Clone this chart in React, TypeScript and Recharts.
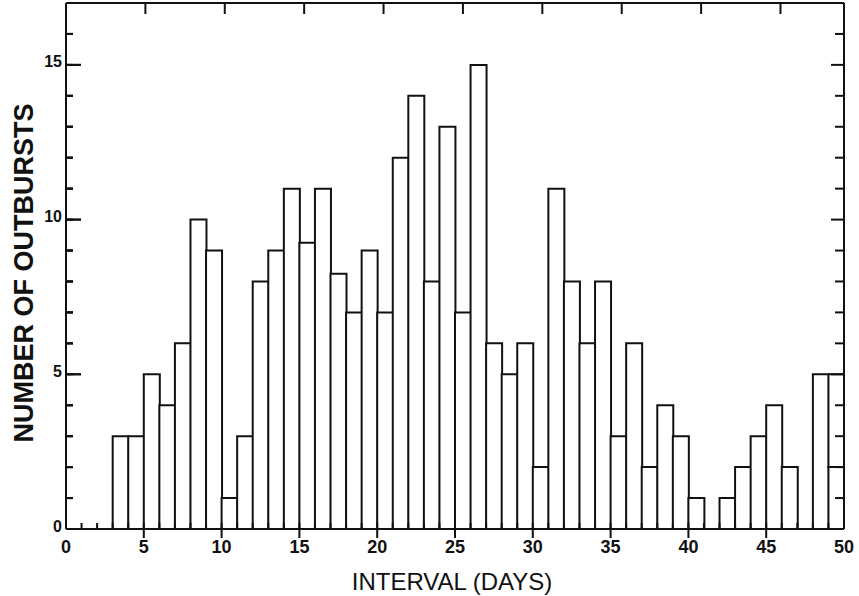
import React from "react";
import { BarChart, Bar, XAxis, YAxis, ReferenceLine } from "recharts";

// Histogram bins (start of each 1-day interval)
const binStarts = Array.from({ length: 50 }, (_, i) => i);
// Number of outbursts per bin
const counts = [
  0, 0, 0, 3, 3, 5, 4, 6, 10, 9,
  1, 3, 8, 9, 11, 9.25, 11, 8.25, 7, 9,
  7, 12, 14, 8, 13, 7, 15, 6, 5, 6,
  2, 11, 8, 6, 8, 3, 6, 2, 4, 3,
  1, 0, 1, 2, 3, 4, 2, 0, 5, 2,
];
// Extra outlined portion drawn on top (last bin outline reaches 5)
const extra = [
  0, 0, 0, 0, 0, 0, 0, 0, 0, 0,
  0, 0, 0, 0, 0, 0, 0, 0, 0, 0,
  0, 0, 0, 0, 0, 0, 0, 0, 0, 0,
  0, 0, 0, 0, 0, 0, 0, 0, 0, 0,
  0, 0, 0, 0, 0, 0, 0, 0, 0, 3,
];

const xTicks = Array.from({ length: 51 }, (_, i) => i);
const xLabelTicks = [0, 5, 10, 15, 20, 25, 30, 35, 40, 45, 50];
const xTopTicks = [5, 10, 15, 20, 25, 30, 35, 40, 45];
const yTicks = Array.from({ length: 17 }, (_, i) => i);
const yLabelTicks = [0, 5, 10, 15];
const yInnerTicks = Array.from({ length: 16 }, (_, i) => i + 1);

const data = binStarts.map((s, i) => ({ x: s + 0.5, count: counts[i], extra: extra[i] }));

const INK = "#111";
const FONT = "'Liberation Sans', Arial, sans-serif";
const lineStyle = { stroke: INK, strokeWidth: 2 };

const BottomTick = (props: any) => {
  const x = Number(props.x);
  const y = Number(props.y);
  const v = props.payload.value;
  const major = xLabelTicks.includes(v);
  return (
    <g>
      {v !== 0 && v !== 50 && (
        <path d={`M${x},${y - 6}L${x},${major ? y + 9 : y}`} stroke={INK} strokeWidth={2} fill="none" />
      )}
      {major && (
        <text x={x} y={y + 11} dy="0.71em" textAnchor="middle" fontFamily={FONT} fontSize={18} fontWeight="bold" fill={INK}>
          {v}
        </text>
      )}
    </g>
  );
};

const TopTick = (props: any) => {
  const x = Number(props.x);
  const y = Number(props.y);
  return <path d={`M${x},${y}L${x},${y + 11}`} stroke={INK} strokeWidth={2} fill="none" />;
};

// Left labels; x arrives at the frame edge (tickSize -7 + tickMargin 7)
const LeftTick = (props: any) => {
  const ax = Number(props.x);
  const y = Number(props.y);
  const v = props.payload.value;
  const major = yLabelTicks.includes(v);
  return (
    <g>
      {v !== 0 && (
        <path d={`M${ax},${y}L${ax + (major ? 15 : 7)},${y}`} stroke={INK} strokeWidth={2} fill="none" />
      )}
      {major && (
        <text x={ax - 4} y={y - 3} dy="0.35em" textAnchor="end" fontFamily={FONT} fontSize={16} fontWeight="bold" fill={INK}>
          {v}
        </text>
      )}
    </g>
  );
};

// Inner tick marks on left and right frame edges, from a reference line's end points
const InnerTickShape = (props: any) => {
  const x1 = Math.min(Number(props.x1), Number(props.x2));
  const x2 = Math.max(Number(props.x1), Number(props.x2));
  const y = Number(props.y1);
  const major = props.major;
  const lenL = major ? 15 : 7;
  const lenR = major ? 13 : 9;
  return (
    <g>
      <path d={`M${x1},${y}L${x1 + lenL},${y}`} stroke={INK} strokeWidth={2} fill="none" />
      <path d={`M${x2},${y}L${x2 - lenR},${y}`} stroke={INK} strokeWidth={2} fill="none" />
    </g>
  );
};

const XLabel = (props: any) => {
  const vb = props.viewBox;
  const cx = vb.x + vb.width / 2 - 3;
  const y = vb.y + vb.height - 6;
  return (
    <text x={cx} y={y} textAnchor="middle" fontFamily={FONT} fontSize={24} fill={INK}>
      INTERVAL (DAYS)
    </text>
  );
};

const YLabel = (props: any) => {
  const vb = props.viewBox;
  const cx = vb.x + 24;
  const cy = vb.y + vb.height / 2 + 7;
  return (
    <text
      x={cx}
      y={cy}
      transform={`rotate(-90 ${cx} ${cy})`}
      textAnchor="middle"
      dominantBaseline="central"
      fontFamily={FONT}
      fontWeight="bold"
      fontSize={27}
      fill={INK}
    >
      NUMBER OF OUTBURSTS
    </text>
  );
};

export default function App() {
  return (
    <div style={{ position: "absolute", left: 0, top: 0, background: "#fff" }}>
      <BarChart
        width={859}
        height={596}
        data={data}
        margin={{ top: 2, right: 14, left: 0, bottom: 0 }}
        barCategoryGap={0}
        barGap={0}
      >
        <XAxis
          xAxisId="bottom"
          type="number"
          dataKey="x"
          domain={[0, 50]}
          allowDataOverflow
          ticks={xTicks}
          tickCount={51}
          interval={0}
          height={67}
          tickSize={0}
          tickMargin={0}
          tickLine={false}
          axisLine={lineStyle}
          tick={<BottomTick />}
          label={<XLabel />}
        />
        <XAxis
          xAxisId="top"
          orientation="top"
          type="number"
          domain={[0, 50]}
          allowDataOverflow
          ticks={xTopTicks}
          interval={0}
          height={1}
          tickSize={0}
          tickMargin={0}
          tickLine={false}
          axisLine={lineStyle}
          tick={<TopTick />}
        />
        <YAxis
          yAxisId="left"
          type="number"
          domain={[0, 17]}
          allowDataOverflow
          ticks={yTicks}
          interval={0}
          width={66}
          tickSize={-7}
          tickMargin={7}
          tickLine={lineStyle}
          axisLine={false}
          tick={<LeftTick />}
          label={<YLabel />}
        />
        <YAxis
          yAxisId="right"
          orientation="right"
          type="number"
          domain={[0, 17]}
          allowDataOverflow
          ticks={yInnerTicks}
          interval={0}
          width={1}
          tickSize={0}
          tickMargin={0}
          tickLine={false}
          axisLine={lineStyle}
          tick={false}
        />
        <Bar
          xAxisId="bottom"
          yAxisId="left"
          dataKey="count"
          stackId="h"
          fill="#fff"
          stroke={INK}
          strokeWidth={2}
          isAnimationActive={false}
        />
        <Bar
          xAxisId="bottom"
          yAxisId="left"
          dataKey="extra"
          stackId="h"
          fill="#fff"
          stroke={INK}
          strokeWidth={2}
          isAnimationActive={false}
        />
        <ReferenceLine xAxisId="bottom" yAxisId="left" x={0} stroke={INK} strokeWidth={2} />
        {yInnerTicks.map((v) => (
          <ReferenceLine
            key={`t${v}`}
            xAxisId="bottom"
            yAxisId="left"
            y={v}
            stroke={INK}
            shape={(p: any) => <InnerTickShape {...p} major={yLabelTicks.includes(v)} />}
          />
        ))}
      </BarChart>
    </div>
  );
}
